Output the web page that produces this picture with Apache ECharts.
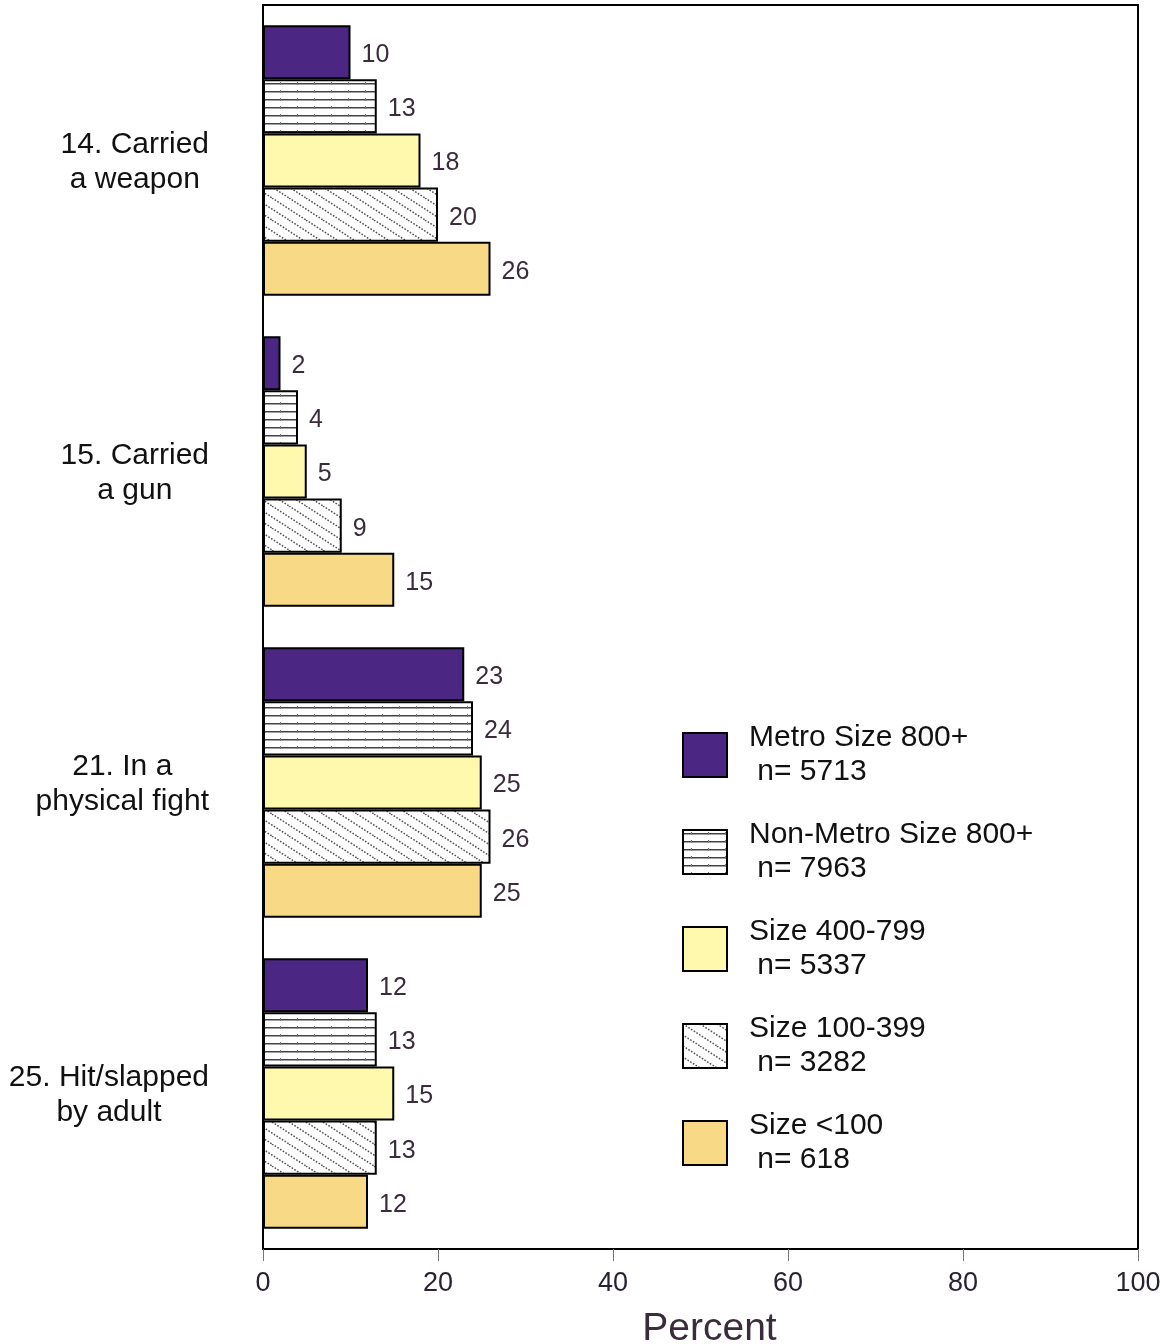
<!DOCTYPE html>
<html>
<head>
<meta charset="utf-8">
<script src="https://cdn.jsdelivr.net/npm/echarts@6/dist/echarts.min.js"></script>
<style>
html,body{margin:0;padding:0;background:#fff;}
#chart{width:1165px;height:1344px;}
</style>
</head>
<body>
<div id="chart"></div>
<script>
// ---- data ----
const categories = ["14. Carried\na weapon", "15. Carried\na gun", "21. In a\nphysical fight", "25. Hit/slapped\nby adult"];
const seriesNames = ["Metro Size 800+", "Non-Metro Size 800+", "Size 400-799", "Size 100-399", "Size <100"];
const sampleSizes = ["5713", "7963", "5337", "3282", "618"];
const metro800 = [10, 2, 23, 12];
const nonMetro800 = [13, 4, 24, 13];
const size400_799 = [18, 5, 25, 15];
const size100_399 = [20, 9, 26, 13];
const sizeUnder100 = [26, 15, 25, 12];
const xTicks = [0, 20, 40, 60, 80, 100];

// ---- patterns ----
function hLinePattern() {
  const c = document.createElement('canvas');
  c.width = 17; c.height = 8;
  const g = c.getContext('2d');
  g.fillStyle = '#fff'; g.fillRect(0, 0, 17, 8);
  g.fillStyle = '#444'; g.fillRect(0, 3, 17, 1.5);
  g.fillStyle = '#777'; g.fillRect(8, 2, 1, 3);
  return c;
}
function diagPattern() {
  const c = document.createElement('canvas');
  c.width = 34; c.height = 22;
  const g = c.getContext('2d');
  g.fillStyle = '#fff'; g.fillRect(0, 0, 34, 22);
  g.strokeStyle = '#555'; g.lineWidth = 1.5;
  g.setLineDash([1.6, 1.6]);
  for (let x0 = -34; x0 <= 34; x0 += 17) {
    g.beginPath(); g.moveTo(x0, 0); g.lineTo(x0 + 34, 22); g.stroke();
  }
  return c;
}

const fills = [
  '#4b2683',
  { image: hLinePattern(), repeat: 'repeat' },
  '#fff9ad',
  { image: diagPattern(), repeat: 'repeat' },
  '#f8d985'
];
const values = [metro800, nonMetro800, size400_799, size100_399, sizeUnder100];
const FONT = 'Liberation Sans, Arial, sans-serif';

const chart = echarts.init(document.getElementById('chart'));
const series = seriesNames.map((name, i) => ({
  name: name,
  type: 'bar',
  data: values[i],
  barGap: '0%',
  barCategoryGap: '13%',
  itemStyle: { color: fills[i], borderColor: '#000', borderWidth: 2 },
  label: {
    show: true, position: 'right', distance: 11, offset: [0, 3],
    color: '#3a2c3a', fontSize: 25, fontFamily: FONT
  },
  emphasis: { disabled: true }
}));

chart.setOption({
  backgroundColor: '#fff',
  animation: false,
  grid: {
    left: 263, right: 27, top: 5, bottom: 95,
    outerBoundsMode: 'none', containLabel: false,
    show: true, borderColor: '#000', borderWidth: 2, backgroundColor: 'transparent'
  },
  xAxis: {
    type: 'value', min: 0, max: 100, interval: 20,
    name: 'Percent', nameLocation: 'middle', nameGap: 61,
    nameTextStyle: { fontSize: 39, color: '#3a2c3a', fontFamily: FONT, padding: [0, 0, 0, 18] },
    axisLine: { show: true, lineStyle: { color: '#000', width: 2 } },
    axisTick: { show: true, length: 12, lineStyle: { color: '#777', width: 1 } },
    axisLabel: {
      fontSize: 27, color: '#2a2230', margin: 21,
      fontFamily: FONT,
      formatter: v => (xTicks.indexOf(v) >= 0 ? String(v) : '')
    },
    splitLine: { show: false }
  },
  yAxis: {
    type: 'category', data: categories, inverse: true,
    axisLine: { show: true, lineStyle: { color: '#000', width: 2 } },
    axisTick: { show: false },
    axisLabel: {
      align: 'right', margin: 54,
      formatter: v => v.split('\n').map(s => '{c|' + s + '}').join('\n'),
      rich: {
        c: { align: 'center', fontSize: 30, lineHeight: 35, color: '#111', fontFamily: FONT }
      },
      padding: [4, 0, 0, 0]
    }
  },
  legend: {
    orient: 'vertical', left: 682, top: 721, padding: 0,
    icon: 'rect',
    itemWidth: 44, itemHeight: 44, itemGap: 29,
    data: seriesNames,
    formatter: name => name + '\n n= ' + sampleSizes[seriesNames.indexOf(name)],
    textStyle: {
      fontSize: 30, lineHeight: 34, color: '#111',
      fontFamily: FONT,
      padding: [0, 0, 0, 17]
    },
    itemStyle: { borderColor: '#000', borderWidth: 2 }
  },
  series: series
});
</script>
</body>
</html>
